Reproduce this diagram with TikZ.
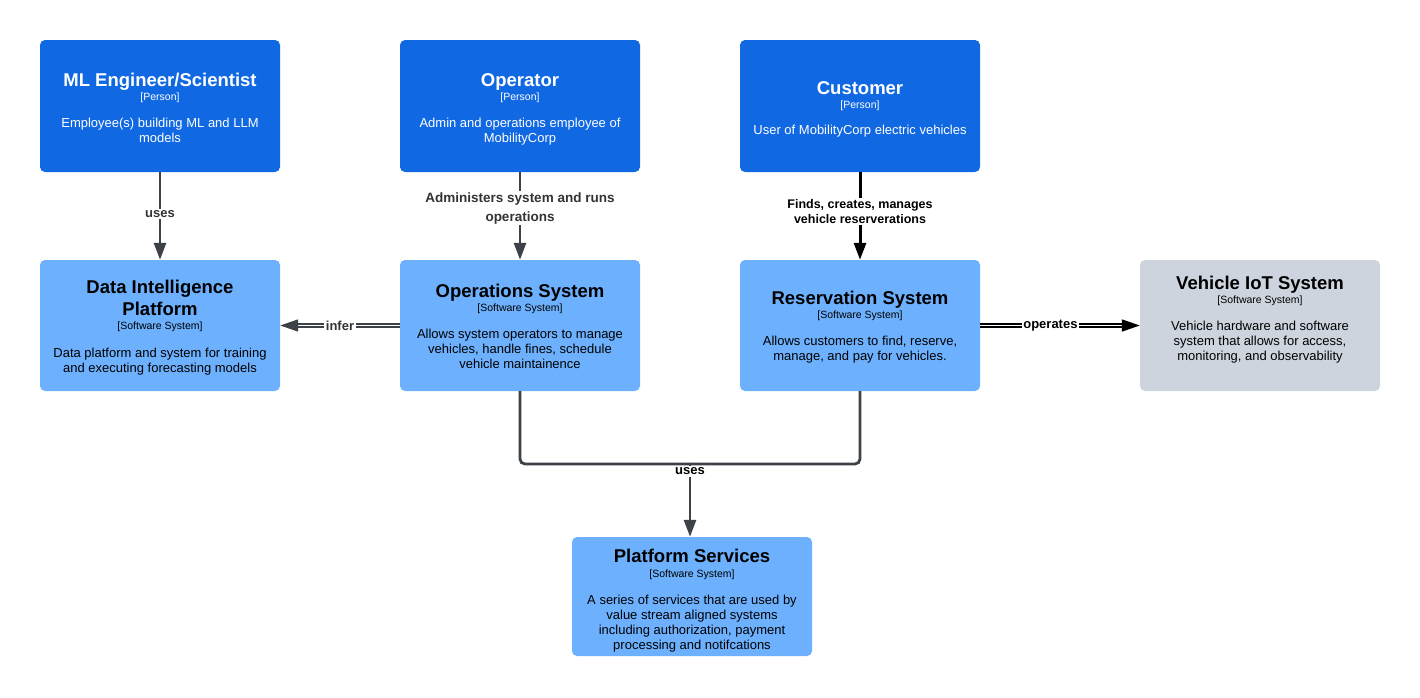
\documentclass[tikz,border=0pt]{standalone}
\usepackage{fontspec}
\setmainfont{Liberation Sans}
\usetikzlibrary{arrows.meta}
\definecolor{darkblue}{HTML}{1168E3}
\definecolor{lightblue}{HTML}{6DB1FE}
\definecolor{iotgray}{HTML}{CED4DE}
\definecolor{linegray}{HTML}{3D4148}
\definecolor{labelgray}{HTML}{333333}
\tikzset{
 box/.style={rectangle, rounded corners=5pt, minimum width=240pt, inner sep=0pt, draw=none},
 person/.style={box, fill=darkblue, minimum height=132pt},
 sys/.style={box, fill=lightblue, minimum height=131pt},
 ext/.style={box, fill=iotgray, minimum height=131pt},
 ttl/.style={font=\fontsize{18.5}{22}\selectfont\bfseries, align=center, inner sep=0pt, anchor=base},
 typ/.style={font=\fontsize{10.5}{12}\selectfont, inner sep=0pt, anchor=base},
 dsc/.style={font=\fontsize{13}{15}\selectfont, align=center, inner sep=0pt, anchor=base},
 lbl/.style={font=\fontsize{13}{15}\selectfont\bfseries, align=center, fill=white, inner sep=1.5pt},
 tip/.style={-{Triangle[length=17pt,width=12pt]}},
 conn/.style={draw=linegray, line width=2.8pt, tip},
 dbl/.style={line width=1.5pt, double=white, double distance=1.3pt, -{Triangle[length=18pt,width=12pt]}},
}
\begin{document}
\begin{tikzpicture}[x=1pt,y=-1pt]
\useasboundingbox (0,0) rectangle (1420,697);
% boxes
\node[person] (ml) at (160,106) {};
\node[person] (op) at (520,106) {};
\node[person] (cu) at (860,106) {};
\node[sys] (dip) at (160,325.5) {};
\node[sys] (ops) at (520,325.5) {};
\node[sys] (res) at (860,325.5) {};
\node[ext] (iot) at (1260,325.5) {};
\node[box, fill=lightblue, minimum height=119pt] (ps) at (692,596.5) {};
% texts persons (multi-line nodes: base = last line)
\begin{scope}[every node/.append style={text=white}]
\node[ttl] (mlt) at (160,86) {ML Engineer/Scientist};
\node[typ] (mly) at (160,100.5) {[Person]};
\node[dsc] (mld) at (160,142) {Employee(s) building ML and LLM\\models};
\node[ttl] (opt) at (520,86) {Operator};
\node[typ] (opy) at (520,100.5) {[Person]};
\node[dsc] (opd) at (520,142) {Admin and operations employee of\\MobilityCorp};
\node[ttl] (cut) at (860,94) {Customer};
\node[typ] (cuy) at (860,108) {[Person]};
\node[dsc] (cud) at (860,134) {User of MobilityCorp electric vehicles};
\end{scope}
% texts systems
\node[ttl] (dipt) at (160,315.5) {Data Intelligence\\Platform};
\node[typ] (dipy) at (160,329.5) {[Software System]};
\node[dsc] (dipd) at (160,372) {Data platform and system for training\\and executing forecasting models};
\node[ttl] (opst) at (520,297.5) {Operations System};
\node[typ] (opsy) at (520,311.5) {[Software System]};
\node[dsc] (opsd) at (520,368) {Allows system operators to manage\\vehicles, handle fines, schedule\\vehicle maintainence};
\node[ttl] (rest) at (860,304.5) {Reservation System};
\node[typ] (resy) at (860,318.5) {[Software System]};
\node[dsc] (resd) at (860,360) {Allows customers to find, reserve,\\manage, and pay for vehicles.};
\node[ttl] (iott) at (1260,289.5) {Vehicle IoT System};
\node[typ] (ioty) at (1260,303.5) {[Software System]};
\node[dsc] (iotd) at (1260,360) {Vehicle hardware and software\\system that allows for access,\\monitoring, and observability};
\node[ttl] (pst) at (692,562.5) {Platform Services};
\node[typ] (psy) at (692,577.5) {[Software System]};
\node[dsc] (psd) at (692,649) {A series of services that are used by\\value stream aligned systems\\including authorization, payment\\processing and notifcations};
% connectors
\draw[conn] (ml.south) -- (dip.north) node[lbl, text=labelgray, pos=0.48] (l1) {uses};
\draw[conn] (op.south) -- (ops.north) node[lbl, text=labelgray, font=\fontsize{13.5}{19}\selectfont\bfseries, pos=0.41] (l2) {Administers system and runs\\operations};
\draw[draw=black, line width=3pt, tip] (cu.south) -- (res.north) node[lbl, text=black, font=\fontsize{12.5}{15}\selectfont\bfseries, pos=0.45] (l3) {Finds, creates, manages\\vehicle reserverations};
\draw[draw=linegray, dbl] (ops.west) -- (dip.west -| dip.east) node[lbl, text=labelgray, pos=0.5] (l4) {infer};
\draw[draw=black, dbl] (res.east) -- (iot.west) node[lbl, text=black, pos=0.44] (l5) {operates};
\coordinate (jn) at (690,464);
\draw[draw=linegray, line width=2.8pt, rounded corners=5pt] (ops.south) |- (jn);
\draw[draw=linegray, line width=2.8pt, rounded corners=5pt] (res.south) |- (jn);
\draw[conn] (jn) -- (jn |- ps.north);
\node[lbl, text=black, fill=white] (l6) at (690,471.5) {uses};
\end{tikzpicture}
\end{document}
